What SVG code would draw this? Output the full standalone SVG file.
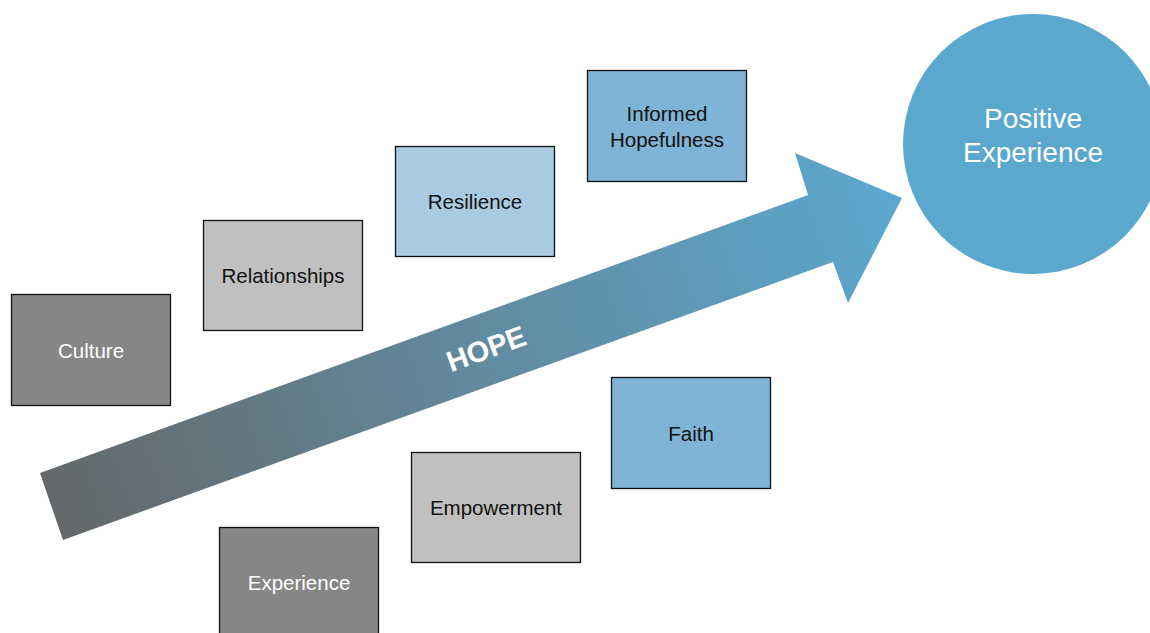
<svg xmlns="http://www.w3.org/2000/svg" width="1150" height="633" viewBox="0 0 1150 633">
<defs>
<linearGradient id="g" gradientUnits="userSpaceOnUse" x1="40" y1="500" x2="902" y2="200">
<stop offset="0" stop-color="#646768"/>
<stop offset="0.5" stop-color="#628a9e"/>
<stop offset="1" stop-color="#5ba8cf"/>
</linearGradient>
</defs>
<style>
.box{stroke:#111;stroke-width:1.3}
.t{font-family:"Liberation Sans",Arial,sans-serif;font-size:20.5px;text-anchor:middle}
.big{font-size:28px}
.dark{fill:#868686}
.lg{fill:#c0c0c0}
.lb{fill:#a9cbe1}
.mb{fill:#7fb4d6}
.w{fill:#ffffff}
.k{fill:#111111}
</style>
<rect width="1150" height="633" fill="#ffffff"/>
<g id="connectors">
<polygon id="hope-arrow" points="40,473 808,195 795,153 902,198 848,303 833,262 63,540" fill="url(#g)"/>
<text x="487" y="351" transform="rotate(-20 487 351)" font-family="Liberation Sans,Arial,sans-serif" font-size="29" font-weight="bold" fill="#ffffff" text-anchor="middle" dominant-baseline="middle">HOPE</text>
</g>
<g id="positive-experience">
<circle cx="1033" cy="144" r="130" fill="#5ba8cf"/>
<text class="t big w" x="1033" y="128">Positive</text>
<text class="t big w" x="1033" y="162">Experience</text>
</g>
<g id="culture">
<rect class="box dark" x="11.5" y="294.5" width="159" height="111"/>
<text class="t w" x="91" y="357.5">Culture</text>
</g>
<g id="relationships">
<rect class="box lg" x="203.5" y="220.5" width="159" height="110"/>
<text class="t k" x="283" y="283">Relationships</text>
</g>
<g id="resilience">
<rect class="box lb" x="395.5" y="146.5" width="159" height="110"/>
<text class="t k" x="475" y="208.5">Resilience</text>
</g>
<g id="informed-hopefulness">
<rect class="box mb" x="587.5" y="70.5" width="159" height="111"/>
<text class="t k" x="667" y="120.5">Informed</text>
<text class="t k" x="667" y="147">Hopefulness</text>
</g>
<g id="faith">
<rect class="box mb" x="611.5" y="377.5" width="159" height="111"/>
<text class="t k" x="691" y="440.5">Faith</text>
</g>
<g id="empowerment">
<rect class="box lg" x="411.5" y="452.5" width="169" height="110"/>
<text class="t k" x="496" y="514.5">Empowerment</text>
</g>
<g id="experience">
<rect class="box dark" x="219.5" y="527.5" width="159" height="111"/>
<text class="t w" x="299" y="589.5">Experience</text>
</g>
</svg>
